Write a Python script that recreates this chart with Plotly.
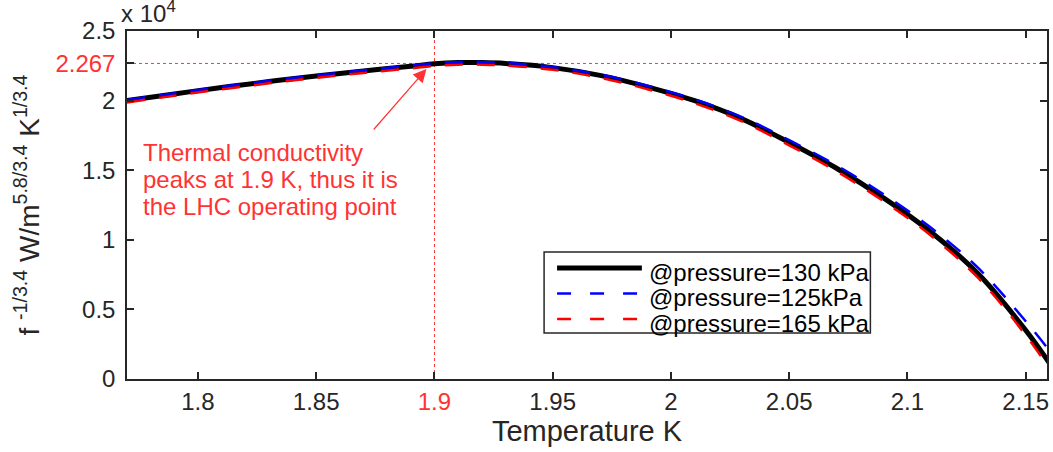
import plotly.graph_objects as go

# Temperature (K)
temperature = [1.77, 1.79, 1.81, 1.83, 1.85, 1.87, 1.89, 1.90, 1.91, 1.92, 1.93,
               1.95, 1.97, 1.99, 2.01, 2.03, 2.05, 2.07, 2.09, 2.11, 2.13, 2.15, 2.16]

# f^(-1/3.4) for each pressure
f_130kpa = [20000, 20480, 20940, 21370, 21770, 22130, 22460, 22640, 22730, 22730, 22670,
            22370, 21810, 20990, 19990, 18690, 16990, 15140, 12990, 10540, 7540, 3500, 1150]
f_125kpa = [20050, 20530, 20990, 21420, 21820, 22180, 22510, 22690, 22780, 22780, 22720,
            22420, 21870, 21070, 20090, 18820, 17160, 15350, 13250, 10860, 7960, 4150, 2050]
f_165kpa = [19870, 20350, 20810, 21240, 21640, 21990, 22310, 22490, 22580, 22580, 22520,
            22210, 21650, 20820, 19810, 18500, 16790, 14920, 12760, 10290, 7240, 3150, 750]

series_names = ["@pressure=130 kPa", "@pressure=125kPa", "@pressure=165 kPa"]
series_colors = ["black", "#0000ff", "#ff0000"]
series_widths = [5, 2.5, 2.5]
series_dash = ["solid", "18px,14px", "18px,14px"]

peak_temperature = 1.9
peak_value = 22670

x_tick_vals = [1.8, 1.85, 1.9, 1.95, 2.0, 2.05, 2.1, 2.15]
x_tick_text = ["1.8", "1.85", "1.9", "1.95", "2", "2.05", "2.1", "2.15"]
y_tick_vals = [0, 5000, 10000, 15000, 20000, 22670, 25000]
y_tick_text = ["0", "0.5", "1", "1.5", "2", "2.267", "2.5"]

RED = "#ff3333"
INK = "#262626"
FONT = "Liberation Sans, Arial, sans-serif"

# plot area in pixels
W, H = 1053, 452
ML, MR, MT, MB = 127, 4, 31, 73
PW, PH = W - ML - MR, H - MT - MB

def px(x):
    return (x - ML) / PW

def py(y):
    return (H - MB - y) / PH

def colour_ticks(texts, highlight):
    return [f'<span style="color:{RED}">{t}</span>' if t == highlight else t for t in texts]

fig = go.Figure()

for name, values, colour, width, dash in zip(series_names, [f_130kpa, f_125kpa, f_165kpa],
                                            series_colors, series_widths, series_dash):
    fig.add_trace(go.Scatter(x=temperature, y=values, mode="lines", name=name,
                             showlegend=False,
                             line=dict(color=colour, width=width, dash=dash, shape="spline")))

# reference lines through the operating point
fig.add_hline(y=peak_value, line=dict(color=RED, width=1, dash="3px,3px"), layer="below")
fig.add_vline(x=peak_temperature, line=dict(color=RED, width=1, dash="3px,3px"), layer="below")

# arrow pointing at the peak
fig.add_annotation(x=1.8966, y=22270, xref="x", yref="y", ax=-54, ay=62,
                   showarrow=True, arrowhead=2, arrowsize=2.2, arrowwidth=1.2,
                   arrowcolor=RED, text="")

note_lines = ["Thermal conductivity", "peaks at 1.9 K, thus it is", "the LHC operating point"]
for i, line in enumerate(note_lines):
    fig.add_annotation(x=px(141), y=py(152 + 27 * i), xref="paper", yref="paper",
                       xanchor="left", yanchor="middle", showarrow=False, text=line,
                       font=dict(family=FONT, size=24, color=RED))

# axis exponent
fig.add_annotation(x=px(119), y=py(29), xref="paper", yref="paper",
                   xanchor="left", yanchor="bottom", showarrow=False,
                   text="x 10<sup>4</sup>", font=dict(family=FONT, size=24, color=INK))

# legend box with line samples
fig.add_shape(type="rect", xref="paper", yref="paper",
              x0=px(545), x1=px(872), y0=py(333), y1=py(252),
              line=dict(color=INK, width=1.5), fillcolor="white", layer="above")
for i, (name, colour, width, dash) in enumerate(zip(series_names, series_colors,
                                                     series_widths, series_dash)):
    yl = 268 + 25.5 * i
    fig.add_shape(type="line", xref="paper", yref="paper",
                  x0=px(558), x1=px(643), y0=py(yl), y1=py(yl),
                  line=dict(color=colour, width=width,
                            dash="14px,19px" if dash != "solid" else "solid"),
                  layer="above")
    fig.add_annotation(x=px(648), y=py(yl + 4), xref="paper", yref="paper",
                       xanchor="left", yanchor="middle", showarrow=False, text=name,
                       font=dict(family=FONT, size=24, color="black"))

axis_common = dict(showline=True, linecolor=INK, linewidth=1.5, mirror="ticks",
                   ticks="inside", ticklen=7, tickwidth=1.5, tickcolor=INK,
                   showgrid=False, zeroline=False,
                   tickfont=dict(family=FONT, size=24, color=INK))

fig.update_xaxes(range=[1.77, 2.159], tickvals=x_tick_vals,
                 ticktext=colour_ticks(x_tick_text, "1.9"),
                 title=dict(text="Temperature K", font=dict(family=FONT, size=29, color=INK),
                            standoff=2),
                 **axis_common)
fig.update_yaxes(range=[0, 25000], tickvals=y_tick_vals,
                 ticktext=colour_ticks(y_tick_text, "2.267"),
                 ticklabelstandoff=5,
                 title=dict(text="f <sup>-1/3.4</sup> W/m<sup>5.8/3.4</sup> K<sup>1/3.4</sup>",
                            font=dict(family=FONT, size=28, color=INK), standoff=8),
                 **axis_common)

fig.update_layout(
    width=W, height=H,
    margin=dict(l=ML, r=MR, t=MT, b=MB),
    paper_bgcolor="white", plot_bgcolor="white",
    font=dict(family=FONT, color=INK),
    showlegend=False,
)

fig.write_html("out.html")
